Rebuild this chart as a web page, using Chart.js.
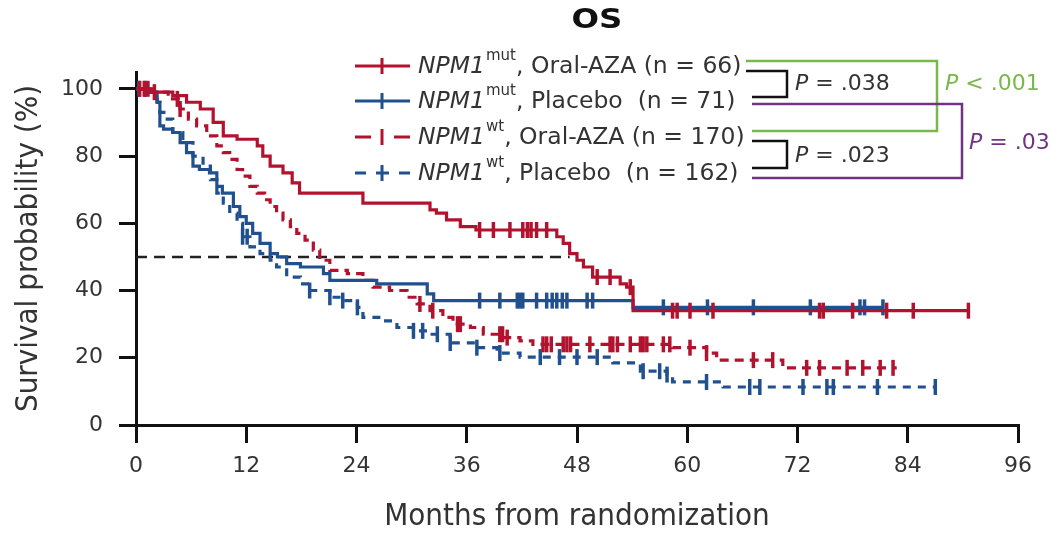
<!DOCTYPE html>
<html>
<head>
<meta charset="utf-8">
<script src="https://cdn.jsdelivr.net/npm/chart.js@4.4.1/dist/chart.umd.min.js"></script>
<style>
  html, body { margin: 0; padding: 0; background: #fff; }
  #wrap { width: 1050px; height: 534px; }
</style>
</head>
<body>
<div id="wrap"><canvas id="osChart" width="1050" height="534"></canvas></div>
<script>
// axis ticks
const xTicks = [0, 12, 24, 36, 48, 60, 72, 84, 96];
const yTicks = [0, 20, 40, 60, 80, 100];

// NPM1 mut, Oral-AZA (red solid)
const mutAzaTimes = [0, 1.5, 4, 5.5, 7, 8.4, 9.5, 11, 13.2, 13.8, 14.6, 16, 17, 17.8, 24.7, 32, 32.7, 33.8, 35.3, 37, 45.8, 46.5, 47.2, 48, 48.7, 49.7, 52.7, 53.4, 54.1, 90.6];
const mutAzaSurv = [100, 99, 98, 96, 94, 90, 86, 85, 83, 80, 77, 75, 72, 69, 66, 64, 63, 61, 59, 58, 56, 54, 51, 49, 47, 44, 42, 41, 34, 34];
const mutAzaCensor = [0.4, 0.9, 1.3, 2, 37.4, 38.9, 40.7, 42.1, 42.6, 43, 43.6, 44.7, 50.2, 51.6, 53.8, 58.4, 58.9, 60.3, 62.8, 74.4, 74.8, 78, 81.7, 84.6, 90.6];

// NPM1 mut, Placebo (blue solid)
const mutPboTimes = [0, 1.5, 2.3, 2.6, 3, 4, 4.8, 5.5, 6.2, 6.9, 8, 8.8, 9.4, 10.6, 11.3, 12, 12.7, 13.5, 14.6, 15.4, 16.4, 17.9, 20.4, 21.1, 26.2, 31.7, 32.4, 54.1, 81.3];
const mutPboSurv = [100, 99, 96, 89, 88, 87, 84, 81, 77, 76, 75, 71, 69, 65, 62, 60, 57, 54, 51, 50, 48, 47, 45, 43, 42, 39, 37, 35, 35];
const mutPboCensor = [0.3, 1, 37.4, 39.6, 41.5, 41.8, 42.1, 43.6, 44.7, 45.3, 45.8, 46.4, 46.9, 49.1, 49.7, 57.4, 62.2, 67.2, 73.4, 78.8, 79.3, 81.3];

// NPM1 wt, Oral-AZA (red dashed)
const wtAzaTimes = [0, 2, 3.5, 4.8, 5.7, 6.6, 7.7, 8.8, 9.5, 10.2, 11, 11.6, 12.4, 13.2, 14, 14.6, 15.3, 16, 16.8, 17.5, 18.4, 19.3, 20, 21.1, 23, 24.7, 25.8, 27.6, 29.5, 30.6, 32, 33.4, 34.5, 36.4, 37.8, 40, 41.8, 43.2, 58.4, 62.1, 63.2, 70.4, 82.8];
const wtAzaSurv = [100, 99, 97, 94, 91, 89, 86, 83, 81, 79, 76, 74, 71, 69, 67, 65, 63, 61, 59, 57, 55, 52, 49, 46, 45, 43, 41, 40, 38, 36, 34, 32, 30, 29, 27, 26, 25, 24, 23, 21.4, 19.3, 17, 17];
const wtAzaCensor = [4.5, 4.8, 30.9, 32.3, 35, 35.3, 39.6, 39.9, 40.4, 44.3, 44.7, 45.2, 46.5, 46.9, 47.3, 49.4, 51.6, 51.9, 52.4, 53.8, 54.9, 55.2, 55.6, 57.4, 58.1, 60.3, 62.1, 67.2, 69.3, 73, 74.4, 77.4, 79.1, 81, 82.4];

// NPM1 wt, Placebo (blue dashed)
const wtPboTimes = [0, 1.5, 2.3, 2.6, 3.4, 4, 5.1, 6.2, 7.3, 8.1, 8.8, 9.5, 10.2, 11, 11.6, 12.4, 13.5, 14.6, 15.3, 16.4, 17.9, 18.9, 21.1, 22.5, 24.1, 24.7, 26.9, 28.4, 30.2, 32, 34.2, 37.1, 39.3, 41.8, 51.9, 54.9, 57.8, 58.4, 63.9, 87];
const wtPboSurv = [100, 99, 96, 93, 91, 87, 84, 80, 77, 73, 69, 66, 63, 60, 56, 53, 51, 49, 47, 44, 42, 40, 38, 37, 35, 32, 31, 29, 28, 27, 24.4, 23, 21.4, 20.2, 18.5, 16, 15, 12.8, 11.3, 11.3];
const wtPboCensor = [11.6, 12.1, 18.9, 21.1, 22.5, 24.1, 30.2, 31.2, 32.8, 34.2, 37.1, 39.6, 44, 46.1, 48, 50.2, 55.2, 57, 57.8, 62.1, 66.8, 67.9, 72.6, 75.2, 75.9, 80.7, 87];

// median reference line
const medianX = [0, 47.2];
const medianY = 50;

// legend + p values
const legendGroup = ['mut', 'mut', 'wt', 'wt'];
const legendArm = [', Oral-AZA (n = 66)', ', Placebo  (n = 71)', ', Oral-AZA (n = 170)', ', Placebo  (n = 162)'];
const pLabels = [' = .038', ' = .023', ' < .001', ' = .03'];

const RED = '#B1132F';
const BLUE = '#21508F';
const GREEN = '#79B84A';
const PURPLE = '#6F3584';
const TEXT = '#333';
const NARROW = '"Liberation Sans Narrow", "DejaVu Sans Condensed", "Liberation Sans", sans-serif';
const SANS = '"DejaVu Sans", "Liberation Sans", sans-serif';

function survAt(times, surv, t) {
    let s = surv[0];
    for (let i = 0; i < times.length; i++) {
        if (times[i] <= t) s = surv[i];
    }
    return s;
}

function kmLine(times, surv, color, dash) {
    return {
        data: times.map((t, i) => ({ x: t, y: surv[i] })),
        borderColor: color,
        borderWidth: 3.2,
        borderDash: dash,
        stepped: 'before',
        pointRadius: 0,
        fill: false
    };
}

function censorMarks(censor, times, surv, color) {
    return {
        data: censor.map(t => ({ x: t, y: survAt(times, surv, t) })),
        showLine: false,
        pointStyle: 'line',
        rotation: 90,
        pointRadius: 8,
        pointBorderWidth: 3.5,
        pointBorderColor: color,
        borderColor: color
    };
}

const groups = [
    { times: mutAzaTimes, surv: mutAzaSurv, censor: mutAzaCensor, color: RED, dash: [] },
    { times: mutPboTimes, surv: mutPboSurv, censor: mutPboCensor, color: BLUE, dash: [] },
    { times: wtAzaTimes, surv: wtAzaSurv, censor: wtAzaCensor, color: RED, dash: [9, 6] },
    { times: wtPboTimes, surv: wtPboSurv, censor: wtPboCensor, color: BLUE, dash: [8, 7] }
];

const datasets = [];
groups.forEach(g => {
    datasets.push(censorMarks(g.censor, g.times, g.surv, g.color));
    datasets.push(kmLine(g.times, g.surv, g.color, g.dash));
});
datasets.push({
    data: medianX.map(x => ({ x: x, y: medianY })),
    borderColor: '#222',
    borderWidth: 2.5,
    borderDash: [11, 7],
    pointRadius: 0
});

// title, legend, brackets and p values drawn onto the canvas
const legendPlugin = {
    id: 'osLegend',
    afterDraw(chart) {
        const ctx = chart.ctx;
        const rowY = [66, 101, 137, 173];
        ctx.save();

        // title
        ctx.fillStyle = '#111';
        ctx.textAlign = 'center';
        ctx.textBaseline = 'middle';
        ctx.font = 'bold 27px ' + SANS;
        ctx.save();
        ctx.translate(597, 21);
        ctx.scale(1.2, 1);
        ctx.fillText('OS', 0, 0);
        ctx.restore();
        ctx.textAlign = 'left';

        ctx.lineCap = 'butt';
        groups.forEach((g, i) => {
            const y = rowY[i];
            ctx.strokeStyle = g.color;
            ctx.lineWidth = 3;
            ctx.beginPath();
            if (i < 2) {
                ctx.moveTo(355, y); ctx.lineTo(410, y);
            } else if (i === 2) {
                ctx.moveTo(355, y); ctx.lineTo(371, y);
                ctx.moveTo(394, y); ctx.lineTo(410, y);
            } else {
                ctx.moveTo(355, y); ctx.lineTo(366, y);
                ctx.moveTo(376, y); ctx.lineTo(389, y);
                ctx.moveTo(399, y); ctx.lineTo(410, y);
            }
            ctx.moveTo(382, y - 8); ctx.lineTo(382, y + 8);
            ctx.stroke();

            ctx.fillStyle = TEXT;
            let x = 418;
            ctx.font = 'italic 23.5px ' + SANS;
            ctx.fillText('NPM1', x, y + 1);
            x += ctx.measureText('NPM1').width + 1;
            ctx.font = '15px ' + SANS;
            ctx.fillText(legendGroup[i], x, y - 10);
            x += ctx.measureText(legendGroup[i]).width;
            ctx.font = '23.5px ' + SANS;
            ctx.fillText(legendArm[i], x, y + 1);
        });

        function path(color, pts) {
            ctx.strokeStyle = color;
            ctx.lineWidth = 2.5;
            ctx.beginPath();
            pts.forEach((p, k) => k ? ctx.lineTo(p[0], p[1]) : ctx.moveTo(p[0], p[1]));
            ctx.stroke();
        }
        path(GREEN, [[746, 61], [937, 61], [937, 131], [752, 131]]);
        path(PURPLE, [[752, 104], [962, 104], [962, 178], [752, 178]]);
        path('#111', [[746, 71], [787, 71], [787, 97], [752, 97]]);
        path('#111', [[752, 141], [787, 141], [787, 168], [752, 168]]);

        function pText(x, y, color, rest) {
            ctx.fillStyle = color;
            ctx.font = 'italic 22px ' + SANS;
            ctx.fillText('P', x, y);
            const w = ctx.measureText('P').width;
            ctx.font = '22px ' + SANS;
            ctx.fillText(rest, x + w, y);
        }
        pText(795, 84, TEXT, pLabels[0]);
        pText(795, 156, TEXT, pLabels[1]);
        pText(945, 84, GREEN, pLabels[2]);
        pText(969, 143, PURPLE, pLabels[3]);
        ctx.restore();
    }
};

new Chart(document.getElementById('osChart').getContext('2d'), {
    type: 'line',
    data: { datasets: datasets },
    options: {
        responsive: false,
        animation: false,
        devicePixelRatio: 1,
        layout: { padding: { top: 72, right: 32, left: 0, bottom: 0 } },
        plugins: {
            legend: { display: false },
            tooltip: { enabled: false },
            title: { display: false }
        },
        scales: {
            x: {
                type: 'linear',
                min: 0,
                max: 96,
                afterBuildTicks: s => { s.ticks = xTicks.map(v => ({ value: v })); },
                afterFit: s => { s.height = 109; },
                border: { display: true, color: '#111', width: 3 },
                grid: { display: true, drawOnChartArea: false, drawTicks: true, tickLength: 18, color: '#111', lineWidth: 3 },
                ticks: { color: TEXT, font: { family: SANS, size: 22 }, padding: 10, maxRotation: 0, autoSkip: false },
                title: {
                    display: true,
                    text: 'Months from randomization',
                    color: TEXT,
                    font: { family: NARROW, size: 31, lineHeight: 1.1 },
                    padding: { top: 0, bottom: 0 }
                }
            },
            y: {
                type: 'linear',
                min: 0,
                max: 105,
                afterBuildTicks: s => { s.ticks = yTicks.map(v => ({ value: v })); },
                afterFit: s => { s.width = 136; },
                border: { display: true, color: '#111', width: 3 },
                grid: { display: true, drawOnChartArea: false, drawTicks: true, tickLength: 17, color: '#111', lineWidth: 3 },
                ticks: { color: TEXT, font: { family: SANS, size: 22 }, padding: 16 },
                title: {
                    display: true,
                    text: 'Survival probability (%)',
                    color: TEXT,
                    font: { family: NARROW, size: 31, lineHeight: 1.1 },
                    padding: { top: 12, bottom: 0 }
                }
            }
        }
    },
    plugins: [legendPlugin]
});
</script>
</body>
</html>
